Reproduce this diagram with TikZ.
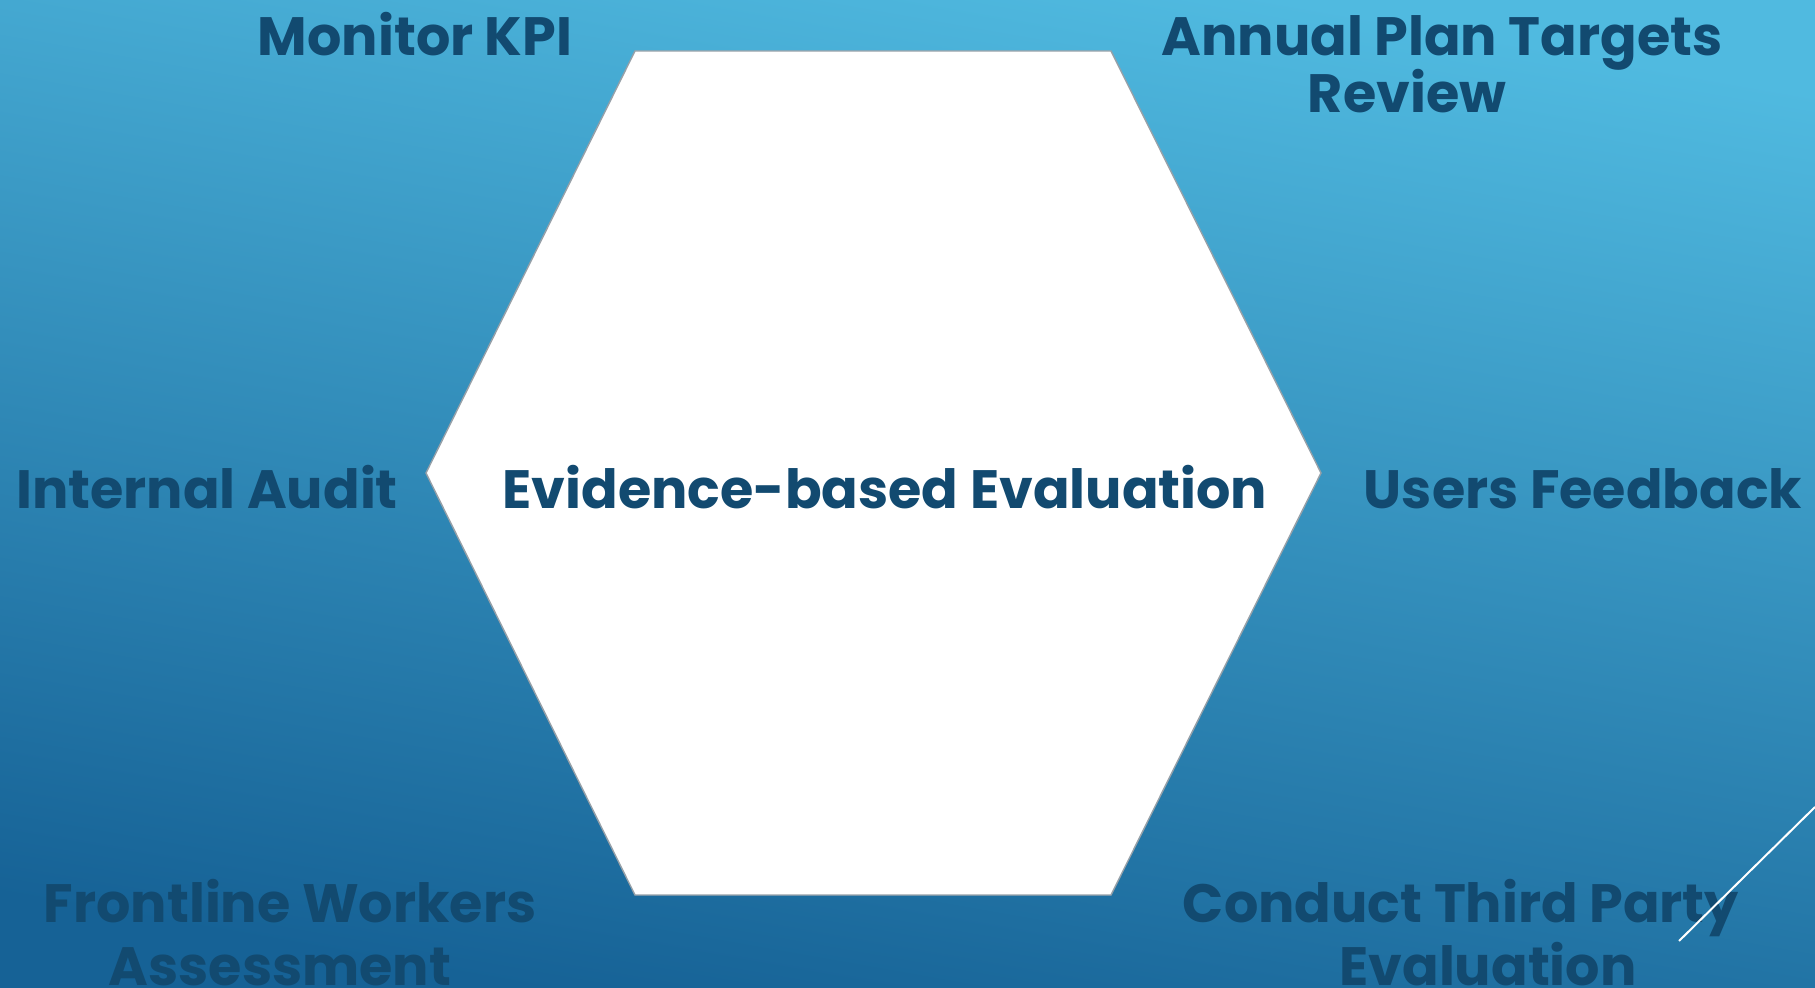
\documentclass[tikz,border=0pt]{standalone}
\usepackage{fontspec}
\setmainfont{Poppins}
\usetikzlibrary{shadings}
\definecolor{bgtop}{RGB}{80,186,224}
\definecolor{bgbot}{RGB}{22,98,150}
\definecolor{txt}{RGB}{18,74,112}
\definecolor{hexedge}{RGB}{150,160,168}
\tikzset{
  lbl/.style={text=txt, font=\fontsize{27}{30}\selectfont\bfseries, inner sep=0pt, anchor=base, align=center},
  hexshape/.style={fill=white, draw=hexedge, line width=0.7pt, line join=miter},
  deco/.style={draw=white, line width=1pt}
}
\begin{document}
\begin{tikzpicture}[x=0.5pt,y=-0.5pt]
\useasboundingbox (0,0) rectangle (1815,988);
\shade[top color=bgtop, bottom color=bgbot, shading angle=-10] (0,0) rectangle (1815,988);
% hexagon
\coordinate (h1) at (635,51);
\coordinate (h2) at (1111,51);
\coordinate (h3) at (1321,473);
\coordinate (h4) at (1111,895);
\coordinate (h5) at (635,895);
\coordinate (h6) at (426,473);
\draw[hexshape] (h1) -- (h2) -- (h3) -- (h4) -- (h5) -- (h6) -- cycle;
% labels
\node[lbl] (center) at (885,509) {Evidence-based Evaluation};
\node[lbl] (kpi) at (415,56) {Monitor KPI};
\node[lbl] (annual) at (1442,56) {Annual Plan Targets};
\node[lbl] (review) at (1407,113) {Review};
\node[lbl] (audit) at (207,509) {Internal Audit};
\node[lbl] (users) at (1583,509) {Users Feedback};
\node[lbl] (front) at (290,922) {Frontline Workers};
\node[lbl] (assess) at (280,985) {Assessment};
\node[lbl] (conduct) at (1461,922) {Conduct Third Party};
\node[lbl] (evalu) at (1488,985) {Evaluation};
% decorative line
\coordinate (d1) at (1815,807);
\coordinate (d2) at (1679,941);
\draw[deco] (d1) -- (d2);
\end{tikzpicture}
\end{document}
